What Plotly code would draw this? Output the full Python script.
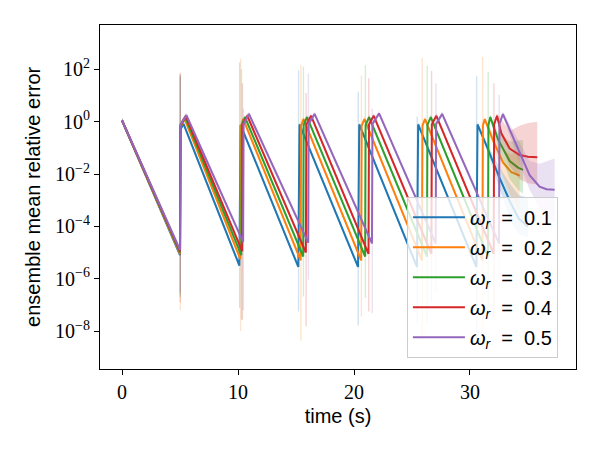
import plotly.graph_objects as go

# ---------------- data ----------------
labels = ["0.1", "0.2", "0.3", "0.4", "0.5"]
colors = ["#1f77b4", "#ff7f0e", "#2ca02c", "#d62728", "#9467bd"]
fills = ["rgba(31,119,180,0.2)", "rgba(255,127,14,0.2)", "rgba(44,160,44,0.2)",
         "rgba(214,39,40,0.2)", "rgba(148,103,189,0.2)"]

start_t = 0.0
start_v = 0.05          # log10 of error at t = 0

# jump times (s) for each series / cycle
jump_t = [
    [5.0, 10.12, 15.20, 20.35, 25.43, 30.55],
    [5.0, 10.20, 15.40, 20.62, 25.86, 31.07],
    [5.0, 10.28, 15.62, 20.96, 26.29, 31.55],
    [5.0, 10.36, 15.85, 21.25, 26.67, 32.04],
    [5.0, 10.44, 16.05, 21.55, 27.04, 32.50],
]
# log10 error just before each jump
trough_v = [
    [-5.10, -5.50, -5.55, -5.55, -5.55, -5.55],
    [-5.05, -5.25, -5.30, -5.30, -5.30, -5.30],
    [-5.00, -5.10, -5.15, -5.15, -5.15, -5.15],
    [-4.95, -4.95, -5.00, -5.05, -5.05, -5.05],
    [-4.90, -4.60, -4.62, -4.65, -4.65, -4.65],
]
# log10 error at top of the steep rise
knee_v = [
    [-0.30, -0.30, -0.30, -0.30, -0.30, -0.30],
    [-0.20, -0.20, -0.15, -0.15, -0.15, -0.15],
    [-0.15, -0.15, -0.12, -0.12, -0.12, -0.12],
    [-0.12, -0.12, -0.10, -0.10, -0.10, -0.10],
    [-0.10, -0.10, -0.08, -0.08, -0.08, -0.08],
]
# peak time and log10 peak value after each jump
peak_t = [
    [5.30, 10.22, 15.30, 20.45, 25.53, 30.65],
    [5.40, 10.45, 15.65, 20.90, 26.12, 31.27],
    [5.45, 10.60, 15.95, 21.30, 26.62, 31.75],
    [5.50, 10.80, 16.30, 21.70, 27.10, 32.33],
    [5.55, 10.94, 16.60, 22.16, 27.60, 32.84],
]
peak_v = [
    [-0.08, -0.12, -0.10, -0.10, -0.10, -0.10],
    [0.10, 0.10, 0.10, 0.10, 0.10, 0.10],
    [0.17, 0.18, 0.18, 0.18, 0.18, 0.18],
    [0.22, 0.23, 0.23, 0.23, 0.23, 0.23],
    [0.25, 0.30, 0.30, 0.32, 0.30, 0.29],
]
# final segment after last peak
tail_t = [
    [31.5, 32.5, 33.5, 34.2, 35.0],
    [31.98, 32.84, 33.57, 34.28],
    [32.41, 33.42, 34.14, 34.57],
    [32.70, 33.42, 34.28, 35.0, 35.8],
    [33.42, 34.28, 35.14, 36.0, 36.6, 37.3],
]
tail_v = [
    [-1.0, -2.1, -3.1, -3.7, -4.0],
    [-0.7, -1.55, -1.93, -2.06],
    [-0.67, -1.5, -1.75, -1.84],
    [-0.44, -1.02, -1.27, -1.34, -1.36],
    [-0.3, -1.17, -2.04, -2.48, -2.58, -2.6],
]
tail_up = [
    [-0.85, -1.7, -2.4, -2.8, -2.9],
    [-0.5, -1.1, -1.25, -1.1],
    [-0.4, -0.75, -0.72, -0.7],
    [0.1, -0.35, -0.15, -0.05, 0.0],
    [-0.1, -0.8, -1.5, -1.6, -1.5, -1.4],
]
tail_lo = [
    [-1.15, -2.5, -3.8, -4.3, -4.4],
    [-0.9, -2.1, -2.9, -3.45],
    [-0.95, -2.2, -2.6, -2.75],
    [-0.9, -1.7, -2.2, -2.35, -2.4],
    [-0.55, -1.6, -2.6, -3.3, -3.6, -3.85],
]
# spread spikes at the jumps (log10 top / bottom)
spike_top = [
    [1.80, 2.27, 1.97, 1.15, 0.19, 1.76],
    [1.87, 2.42, 2.16, 1.78, 2.44, 2.48],
    [1.75, 2.01, 2.10, 2.16, 2.13, 1.91],
    [1.85, 1.47, 1.10, 1.66, 1.94, 1.47],
    [1.70, 0.50, 1.85, 0.50, 1.47, 1.02],
]
spike_bot = [
    [-6.60, -7.12, -7.25, -7.79, -7.70, -8.30],
    [-7.19, -8.00, -8.37, -7.44, -8.30, -7.90],
    [-6.70, -7.57, -6.68, -6.74, -7.70, -7.20],
    [-6.90, -7.57, -7.82, -7.25, -6.90, -7.50],
    [-6.50, -7.20, -6.04, -7.31, -6.50, -6.00],
]

y_ticks = [1e-8, 1e-6, 1e-4, 1e-2, 1e0, 1e2]
y_tick_text = ["10<sup>\u22128</sup>", "10<sup>\u22126</sup>", "10<sup>\u22124</sup>",
               "10<sup>\u22122</sup>", "10<sup>0</sup>", "10<sup>2</sup>"]
x_ticks = [0, 10, 20, 30]

x_title = "time (s)"
y_title = "ensemble mean relative error"

# ---------------- figure ----------------
HALO = 0.1
RISE_DT = 0.04
SPIKE_HW = 0.06

fig = go.Figure()
for i in range(5):
    ts = [start_t]
    vs = [start_v]
    for k in range(6):
        ts += [jump_t[i][k], jump_t[i][k] + RISE_DT, peak_t[i][k]]
        vs += [trough_v[i][k], knee_v[i][k], peak_v[i][k]]
    up = [v + HALO for v in vs] + tail_up[i]
    lo = [v - HALO for v in vs] + tail_lo[i]
    ts += tail_t[i]
    vs += tail_v[i]

    bx = ts + ts[::-1]
    by = [10 ** v for v in up] + [10 ** v for v in lo[::-1]]
    for k in range(6):
        c = jump_t[i][k] + 0.02
        bx += [None, c - SPIKE_HW, c + SPIKE_HW, c + SPIKE_HW, c - SPIKE_HW]
        by += [None, 10 ** spike_bot[i][k], 10 ** spike_bot[i][k],
               10 ** spike_top[i][k], 10 ** spike_top[i][k]]

    fig.add_trace(go.Scatter(x=bx, y=by, mode="lines", fill="toself",
                             fillcolor=fills[i], line=dict(width=0),
                             hoverinfo="skip", showlegend=False))
    fig.add_trace(go.Scatter(x=ts, y=[10 ** v for v in vs], mode="lines",
                             line=dict(color=colors[i], width=2),
                             name="<i>\u03c9</i><sub><i>r</i></sub>\u00a0\u00a0=\u00a0\u00a0" + labels[i],
                             legendgroup=labels[i]))

axis_common = dict(showline=True, mirror=True, linecolor="black", linewidth=1,
                   ticks="outside", ticklen=5, tickcolor="black", tickwidth=1,
                   showgrid=False, zeroline=False, automargin=False,
                   tickfont=dict(family="Liberation Serif", size=20, color="black"))

fig.update_xaxes(range=[-1.9, 39.14], tickvals=x_ticks,
                 title=dict(text=x_title, standoff=6,
                            font=dict(family="Liberation Sans", size=20, color="black")),
                 **axis_common)
fig.update_yaxes(type="log", range=[-9.45, 3.70], tickvals=y_ticks, ticktext=y_tick_text,
                 **axis_common)

fig.add_annotation(text=y_title, xref="paper", yref="paper", x=-0.141, y=0.5,
                   xanchor="center", yanchor="middle", textangle=-90, showarrow=False,
                   font=dict(family="Liberation Sans", size=20, color="black"))

fig.update_layout(
    width=600, height=450,
    margin=dict(l=100, r=24, t=25, b=81, autoexpand=False),
    paper_bgcolor="white", plot_bgcolor="white",
    showlegend=True,
    legend=dict(x=0.962, xanchor="right", y=0.033, yanchor="bottom",
                bgcolor="rgba(255,255,255,0.8)", bordercolor="#cccccc", borderwidth=1,
                font=dict(family="Liberation Sans", size=20, color="black"),
                itemwidth=52, tracegroupgap=1),
)

fig.write_html("out.html", config={"displayModeBar": False},
               post_script="document.body.style.margin='0';document.body.style.padding='0';")
